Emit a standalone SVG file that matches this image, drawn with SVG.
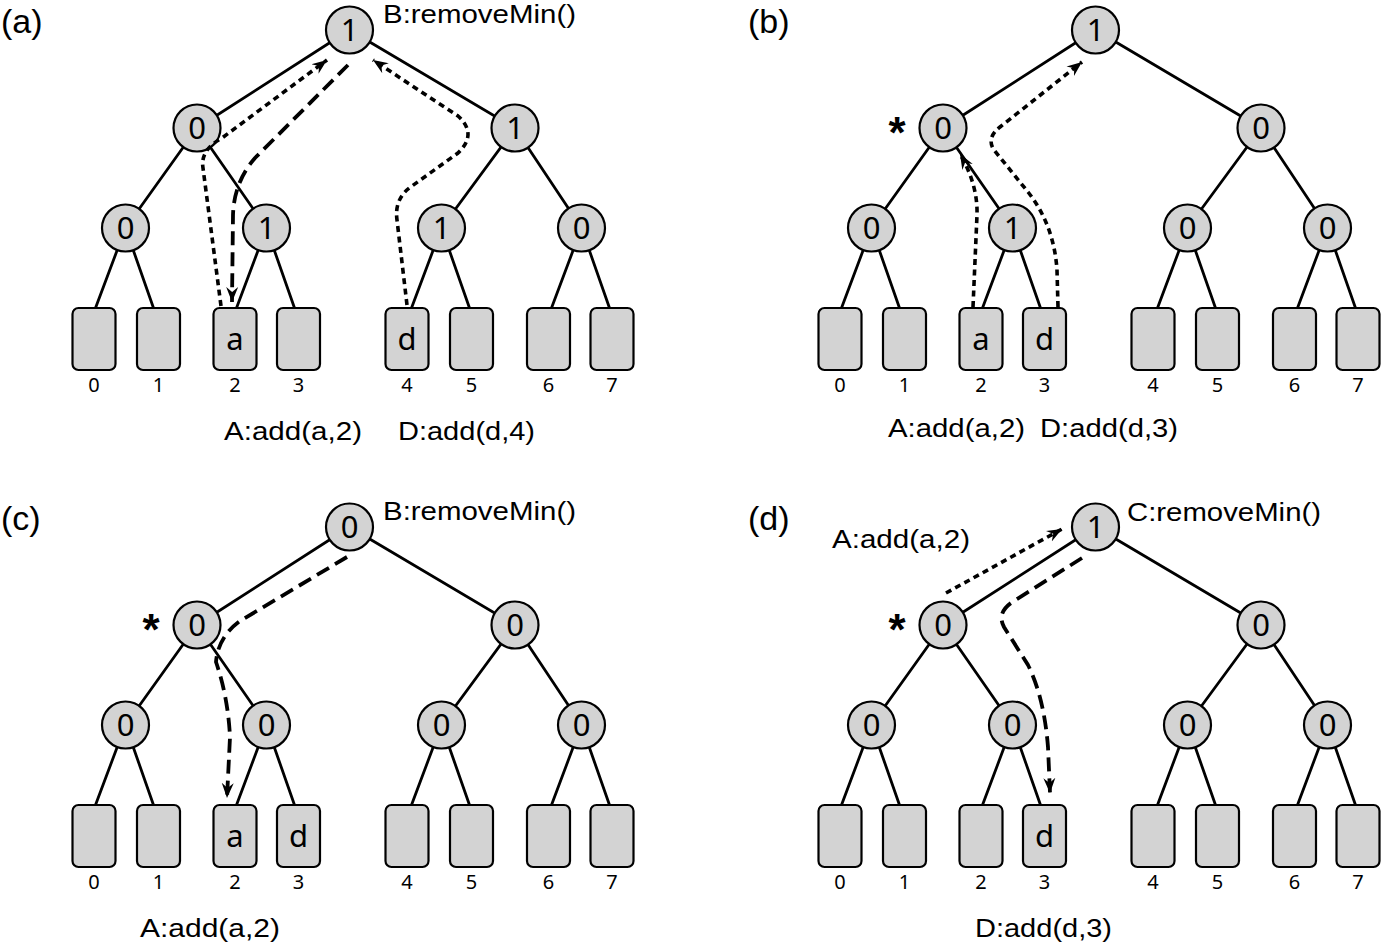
<svg xmlns="http://www.w3.org/2000/svg" width="1382" height="942" viewBox="0 0 1382 942">
<defs>
<style>
.edge{stroke:#000;stroke-width:2.8;fill:none;stroke-linecap:round}
.node circle{fill:#d3d3d3;stroke:#000;stroke-width:2.2}
.nv{font-family:"Noto Sans",sans-serif;font-size:31px;text-anchor:middle;fill:#000}
.lr{fill:#d3d3d3;stroke:#000;stroke-width:2.2}
.lv{font-family:"Noto Sans",sans-serif;font-size:31px;text-anchor:middle;fill:#000}
.idx{font-family:"Noto Sans",sans-serif;font-size:20px;text-anchor:middle;fill:#000}
.lbl{font-family:"Liberation Sans",Arial,sans-serif;font-size:26px;fill:#000}
.pl{font-family:"Liberation Sans",Arial,sans-serif;font-size:34px;fill:#000}
.star{font-family:"Liberation Sans",Arial,sans-serif;font-size:44px;font-weight:bold;text-anchor:middle;fill:#000}
.dot{stroke:#000;stroke-width:3.6;fill:none;stroke-dasharray:6 4.5}
.dash{stroke:#000;stroke-width:3.8;fill:none;stroke-dasharray:14 7}
</style>
<marker id="ah" markerUnits="userSpaceOnUse" markerWidth="18" markerHeight="14" refX="15" refY="7" orient="auto">
<path d="M0,1 L15,7 L0,13 L5,7 z" fill="#000"/>
</marker>
<g id="tree-edges">
<line class="edge" x1="349.5" y1="30" x2="197" y2="128"/>
<line class="edge" x1="349.5" y1="30" x2="515" y2="128"/>
<line class="edge" x1="197" y1="128" x2="125.5" y2="228"/>
<line class="edge" x1="197" y1="128" x2="266.5" y2="228"/>
<line class="edge" x1="515" y1="128" x2="441.5" y2="228"/>
<line class="edge" x1="515" y1="128" x2="581.5" y2="228"/>
<line class="edge" x1="125.5" y1="228" x2="95.5" y2="308"/>
<line class="edge" x1="125.5" y1="228" x2="153.5" y2="308"/>
<line class="edge" x1="266.5" y1="228" x2="236.5" y2="308"/>
<line class="edge" x1="266.5" y1="228" x2="294.5" y2="308"/>
<line class="edge" x1="441.5" y1="228" x2="411.5" y2="308"/>
<line class="edge" x1="441.5" y1="228" x2="469.5" y2="308"/>
<line class="edge" x1="581.5" y1="228" x2="551.5" y2="308"/>
<line class="edge" x1="581.5" y1="228" x2="609.5" y2="308"/>
</g>
<g id="leaf-boxes">
<rect class="lr" x="72.5" y="308" width="43" height="62" rx="6"/>
<rect class="lr" x="137" y="308" width="43" height="62" rx="6"/>
<rect class="lr" x="213.5" y="308" width="43" height="62" rx="6"/>
<rect class="lr" x="277" y="308" width="43" height="62" rx="6"/>
<rect class="lr" x="385.5" y="308" width="43" height="62" rx="6"/>
<rect class="lr" x="450" y="308" width="43" height="62" rx="6"/>
<rect class="lr" x="527" y="308" width="43" height="62" rx="6"/>
<rect class="lr" x="590.5" y="308" width="43" height="62" rx="6"/>
</g>
<g id="leaf-index">
<text class="idx" x="94" y="392">0</text>
<text class="idx" x="158.5" y="392">1</text>
<text class="idx" x="235" y="392">2</text>
<text class="idx" x="298.5" y="392">3</text>
<text class="idx" x="407" y="392">4</text>
<text class="idx" x="471.5" y="392">5</text>
<text class="idx" x="548.5" y="392">6</text>
<text class="idx" x="612" y="392">7</text>
</g>
</defs>

<!-- Panel (a) -->
<g id="panel-a">
<text class="pl" x="1" y="33">(a)</text>
<g id="a-connectors"><use href="#tree-edges"/></g>
<g id="a-leaves"><use href="#leaf-boxes"/><use href="#leaf-index"/>
<text class="lv" x="235" y="350">a</text><text class="lv" x="407" y="350">d</text></g>
<g id="a-root" class="node"><circle cx="349.5" cy="30" r="23.5"/><text class="nv" x="349.5" y="41">1</text></g>
<g id="a-n0" class="node"><circle cx="197" cy="128" r="23.5"/><text class="nv" x="197" y="139">0</text></g>
<g id="a-n1" class="node"><circle cx="515" cy="128" r="23.5"/><text class="nv" x="515" y="139">1</text></g>
<g id="a-n00" class="node"><circle cx="125.5" cy="228" r="23.5"/><text class="nv" x="125.5" y="239">0</text></g>
<g id="a-n01" class="node"><circle cx="266.5" cy="228" r="23.5"/><text class="nv" x="266.5" y="239">1</text></g>
<g id="a-n10" class="node"><circle cx="441.5" cy="228" r="23.5"/><text class="nv" x="441.5" y="239">1</text></g>
<g id="a-n11" class="node"><circle cx="581.5" cy="228" r="23.5"/><text class="nv" x="581.5" y="239">0</text></g>
<g id="a-arrows">
<path class="dot" d="M221 306 L203 168 Q200 150 222 138 L327 60" marker-end="url(#ah)"/>
<path class="dash" d="M348 65 L255 158 Q234 182 233 215 L232 302" marker-end="url(#ah)"/>
<path class="dot" d="M407 305 L397 220 Q394 198 412 186 L458 153 Q478 134 458 116 L373 60" marker-end="url(#ah)"/>
</g>
<text class="lbl" x="383" y="23" textLength="193" lengthAdjust="spacingAndGlyphs">B:removeMin()</text>
<text class="lbl" x="224" y="439.5" textLength="138" lengthAdjust="spacingAndGlyphs">A:add(a,2)</text>
<text class="lbl" x="398" y="439.5" textLength="137" lengthAdjust="spacingAndGlyphs">D:add(d,4)</text>
</g>

<!-- Panel (b) -->
<g id="panel-b" transform="translate(746,0)">
<text class="pl" x="2" y="33">(b)</text>
<g id="b-connectors"><use href="#tree-edges"/></g>
<g id="b-leaves"><use href="#leaf-boxes"/><use href="#leaf-index"/>
<text class="lv" x="235" y="350">a</text><text class="lv" x="298.5" y="350">d</text></g>
<g id="b-root" class="node"><circle cx="349.5" cy="30" r="23.5"/><text class="nv" x="349.5" y="41">1</text></g>
<g id="b-n0" class="node"><circle cx="197" cy="128" r="23.5"/><text class="nv" x="197" y="139">0</text></g>
<g id="b-n1" class="node"><circle cx="515" cy="128" r="23.5"/><text class="nv" x="515" y="139">0</text></g>
<g id="b-n00" class="node"><circle cx="125.5" cy="228" r="23.5"/><text class="nv" x="125.5" y="239">0</text></g>
<g id="b-n01" class="node"><circle cx="266.5" cy="228" r="23.5"/><text class="nv" x="266.5" y="239">1</text></g>
<g id="b-n10" class="node"><circle cx="441.5" cy="228" r="23.5"/><text class="nv" x="441.5" y="239">0</text></g>
<g id="b-n11" class="node"><circle cx="581.5" cy="228" r="23.5"/><text class="nv" x="581.5" y="239">0</text></g>
<text class="star" x="151" y="148">*</text>
<g id="b-arrows">
<path class="dot" d="M227 307 L231 215 Q232 185 214 154" marker-end="url(#ah)"/>
<path class="dot" d="M312 307 L311 270 Q308 225 282 192 L248 150 Q240 138 254 127 L336 62" marker-end="url(#ah)"/>
</g>
<text class="lbl" x="142" y="437" textLength="137" lengthAdjust="spacingAndGlyphs">A:add(a,2)</text>
<text class="lbl" x="294" y="437" textLength="138" lengthAdjust="spacingAndGlyphs">D:add(d,3)</text>
</g>

<!-- Panel (c) -->
<g id="panel-c" transform="translate(0,497)">
<text class="pl" x="1" y="33">(c)</text>
<g id="c-connectors"><use href="#tree-edges"/></g>
<g id="c-leaves"><use href="#leaf-boxes"/><use href="#leaf-index"/>
<text class="lv" x="235" y="350">a</text><text class="lv" x="298.5" y="350">d</text></g>
<g id="c-root" class="node"><circle cx="349.5" cy="30" r="23.5"/><text class="nv" x="349.5" y="41">0</text></g>
<g id="c-n0" class="node"><circle cx="197" cy="128" r="23.5"/><text class="nv" x="197" y="139">0</text></g>
<g id="c-n1" class="node"><circle cx="515" cy="128" r="23.5"/><text class="nv" x="515" y="139">0</text></g>
<g id="c-n00" class="node"><circle cx="125.5" cy="228" r="23.5"/><text class="nv" x="125.5" y="239">0</text></g>
<g id="c-n01" class="node"><circle cx="266.5" cy="228" r="23.5"/><text class="nv" x="266.5" y="239">0</text></g>
<g id="c-n10" class="node"><circle cx="441.5" cy="228" r="23.5"/><text class="nv" x="441.5" y="239">0</text></g>
<g id="c-n11" class="node"><circle cx="581.5" cy="228" r="23.5"/><text class="nv" x="581.5" y="239">0</text></g>
<text class="star" x="151" y="148">*</text>
<g id="c-arrows">
<path class="dash" d="M347 60 L240 124 Q218 140 216 165 Q228 200 230 240 L227 301" marker-end="url(#ah)"/>
</g>
<text class="lbl" x="383" y="23" textLength="193" lengthAdjust="spacingAndGlyphs">B:removeMin()</text>
<text class="lbl" x="140" y="439.5" textLength="140" lengthAdjust="spacingAndGlyphs">A:add(a,2)</text>
</g>

<!-- Panel (d) -->
<g id="panel-d" transform="translate(746,497)">
<text class="pl" x="2" y="33">(d)</text>
<g id="d-connectors"><use href="#tree-edges"/></g>
<g id="d-leaves"><use href="#leaf-boxes"/><use href="#leaf-index"/>
<text class="lv" x="298.5" y="350">d</text></g>
<g id="d-root" class="node"><circle cx="349.5" cy="30" r="23.5"/><text class="nv" x="349.5" y="41">1</text></g>
<g id="d-n0" class="node"><circle cx="197" cy="128" r="23.5"/><text class="nv" x="197" y="139">0</text></g>
<g id="d-n1" class="node"><circle cx="515" cy="128" r="23.5"/><text class="nv" x="515" y="139">0</text></g>
<g id="d-n00" class="node"><circle cx="125.5" cy="228" r="23.5"/><text class="nv" x="125.5" y="239">0</text></g>
<g id="d-n01" class="node"><circle cx="266.5" cy="228" r="23.5"/><text class="nv" x="266.5" y="239">0</text></g>
<g id="d-n10" class="node"><circle cx="441.5" cy="228" r="23.5"/><text class="nv" x="441.5" y="239">0</text></g>
<g id="d-n11" class="node"><circle cx="581.5" cy="228" r="23.5"/><text class="nv" x="581.5" y="239">0</text></g>
<text class="star" x="151" y="148">*</text>
<g id="d-arrows">
<path class="dot" d="M200 96 L316 32" marker-end="url(#ah)"/>
<path class="dash" d="M336 61 L268 104 Q250 115 258 130 L282 168 Q298 200 302 250 L304 296" marker-end="url(#ah)"/>
</g>
<text class="lbl" x="381" y="24" textLength="194" lengthAdjust="spacingAndGlyphs">C:removeMin()</text>
<text class="lbl" x="86" y="51" textLength="138" lengthAdjust="spacingAndGlyphs">A:add(a,2)</text>
<text class="lbl" x="229" y="439.5" textLength="137" lengthAdjust="spacingAndGlyphs">D:add(d,3)</text>
</g>
</svg>
